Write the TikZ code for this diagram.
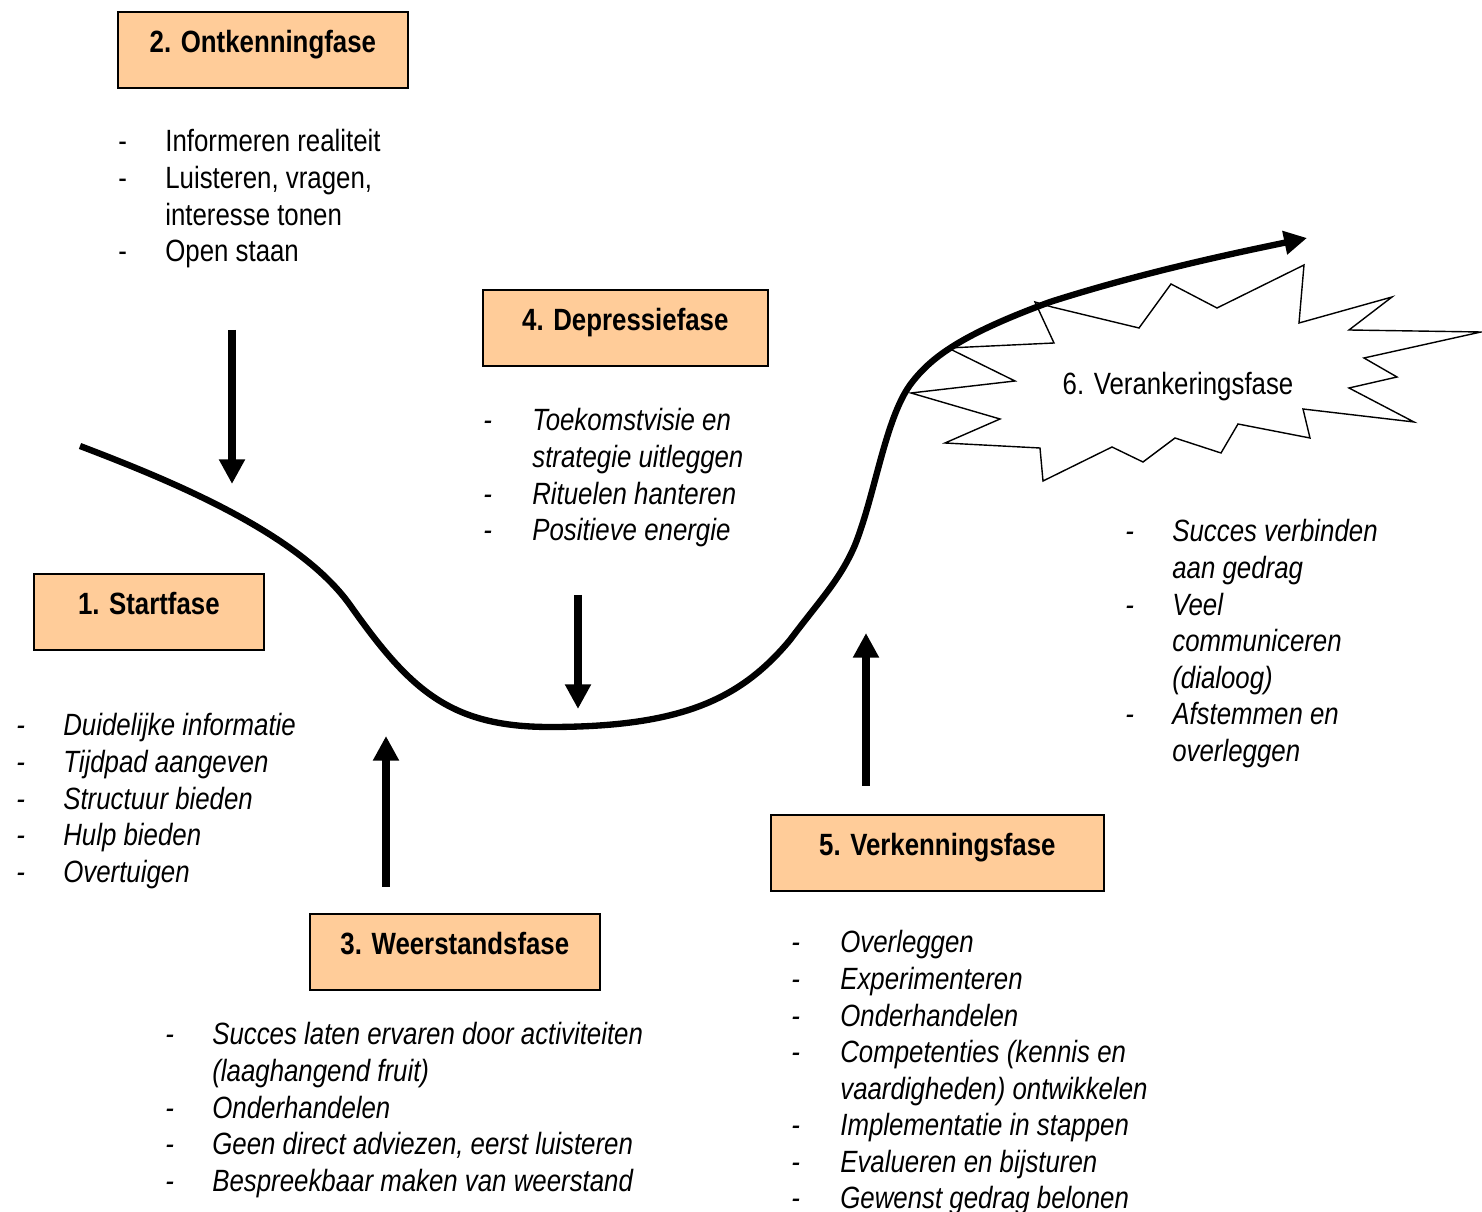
\documentclass[tikz,border=0pt]{standalone}
\usepackage{fontspec}
\setmainfont{Liberation Sans}[FakeStretch=0.84]
\usetikzlibrary{arrows.meta}
\definecolor{perzik}{RGB}{255,204,153}

\begin{document}
\begin{tikzpicture}[x=0.02cm,y=-0.02cm,
				every node/.style={font=\fontsize{17.5}{20.8}\selectfont},
				fase/.style={draw,line width=1pt,fill=perzik,anchor=north west,
					inner ysep=0pt,text height=0.82cm,text depth=0.70cm,
					font=\fontsize{17.5}{20.8}\selectfont\bfseries},
				lijst/.style={anchor=base west,inner sep=0pt},
				pijl/.style={line width=4pt,-{Triangle[width=14pt,length=14pt]}},
				kromme/.style={line width=3.6pt,-{Triangle[width=13pt,length=13pt]}}]
\useasboundingbox (0,0) rectangle (1482,1212);

% ster van fase 6
\draw[line width=0.8pt,fill=white] (948,348) -- (1054,343) -- (1035,302) -- (1052,307)
	-- (1139,328) -- (1171,284) -- (1217,308) -- (1304,265) -- (1299,323)
	-- (1392,297) -- (1349,330) -- (1481,332) -- (1364,358) -- (1397,377)
	-- (1349,388) -- (1414,422) -- (1303,409) -- (1310,438) -- (1238,424)
	-- (1221,453) -- (1175,438) -- (1143,462) -- (1112,447) -- (1043,481)
	-- (1040,448) -- (945,443) -- (1000,419) -- (911,393) -- (1015,381) -- cycle;
\node (fase6) at (1178,387) {6. Verankeringsfase};

% de verandercurve
\draw[kromme] (80,446) .. controls (180,484) and (300,535) .. (350,605)
	.. controls (410,690) and (450,727) .. (550,727)
	.. controls (680,727) and (740,700) .. (790,640)
	.. controls (820,600) and (840,580) .. (855,545)
	.. controls (875,495) and (885,420) .. (910,385)
	.. controls (930,358) and (960,335) .. (1050,302)
	.. controls (1150,270) and (1250,250) .. (1307,238);

% fasen
\node[fase,minimum width=4.6cm] (fase1) at (33,573) {1. Startfase};
\node[fase,minimum width=5.8cm] (fase2) at (117,11) {2. Ontkenningfase};
\node[fase,minimum width=5.8cm] (fase3) at (309,913) {3. Weerstandsfase};
\node[fase,minimum width=5.7cm] (fase4) at (482,289) {4. Depressiefase};
\node[fase,minimum width=6.66cm] (fase5) at (770,814) {5. Verkenningsfase};

% lijsten
\node[lijst] (lijst1) at (16,736) {\itshape\begin{tabular}[t]{@{}p{0.94cm}@{}l@{}}
	- & Duidelijke informatie\\
	- & Tijdpad aangeven\\
	- & Structuur bieden\\
	- & Hulp bieden\\
	- & Overtuigen
	\end{tabular}};
\node[lijst] (lijst2) at (118,152) {\begin{tabular}[t]{@{}p{0.94cm}@{}l@{}}
	- & Informeren realiteit\\
	- & Luisteren, vragen,\\
	  & interesse tonen\\
	- & Open staan
	\end{tabular}};
\node[lijst] (lijst3) at (165,1045) {\itshape\begin{tabular}[t]{@{}p{0.94cm}@{}l@{}}
	- & Succes laten ervaren door activiteiten\\
	  & (laaghangend fruit)\\
	- & Onderhandelen\\
	- & Geen direct adviezen, eerst luisteren\\
	- & Bespreekbaar maken van weerstand
	\end{tabular}};
\node[lijst] (lijst4) at (483,431) {\itshape\begin{tabular}[t]{@{}p{0.98cm}@{}l@{}}
	- & Toekomstvisie en\\
	  & strategie uitleggen\\
	- & Rituelen hanteren\\
	- & Positieve energie
	\end{tabular}};
\node[lijst] (lijst5) at (791,953) {\itshape\begin{tabular}[t]{@{}p{0.98cm}@{}l@{}}
	- & Overleggen\\
	- & Experimenteren\\
	- & Onderhandelen\\
	- & Competenties (kennis en\\
	  & vaardigheden) ontwikkelen\\
	- & Implementatie in stappen\\
	- & Evalueren en bijsturen\\
	- & Gewenst gedrag belonen
	\end{tabular}};
\node[lijst] (lijst6) at (1125,542) {\itshape\begin{tabular}[t]{@{}p{0.94cm}@{}l@{}}
	- & Succes verbinden\\
	  & aan gedrag\\
	- & Veel\\
	  & communiceren\\
	  & (dialoog)\\
	- & Afstemmen en\\
	  & overleggen
	\end{tabular}};

% pijlen naar de curve
\coordinate (p2a) at (232,330);
\coordinate (p2b) at (232,484);
\coordinate (p3a) at (386,887);
\coordinate (p3b) at (386,736);
\coordinate (p4a) at (578,595);
\coordinate (p4b) at (578,709);
\coordinate (p5a) at (866,786);
\coordinate (p5b) at (866,633);
\draw[pijl] (p2a) -- (p2b);
\draw[pijl] (p3a) -- (p3b);
\draw[pijl] (p4a) -- (p4b);
\draw[pijl] (p5a) -- (p5b);
\end{tikzpicture}
\end{document}
